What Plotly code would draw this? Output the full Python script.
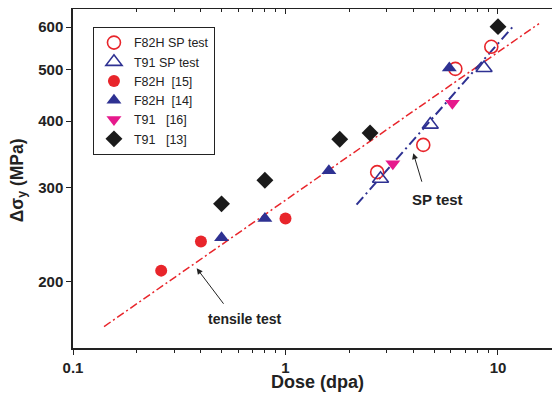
import plotly.graph_objects as go
import math

# ---- data ----
f82h_sp_dose = [2.7, 4.45, 6.3, 9.3]
f82h_sp_ds = [321, 361, 501, 551]

t91_sp_dose = [2.8, 4.8, 8.6]
t91_sp_ds = [312, 394, 503]

f82h_15_dose = [0.26, 0.40, 1.0]
f82h_15_ds = [210, 238, 263]

f82h_14_dose = [0.5, 0.8, 1.6, 5.9]
f82h_14_ds = [242, 263, 323, 503]

t91_16_dose = [3.2, 6.1]
t91_16_ds = [333, 432]

t91_13_dose = [0.5, 0.8, 1.8, 2.5, 10.0]
t91_13_ds = [280, 310, 370, 380, 601]

tensile_fit_dose = [0.14, 15.6]
tensile_fit_ds = [165, 609]

sp_fit_dose = [2.16, 11.7]
sp_fit_ds = [279, 600]

y_ticks = [200, 300, 400, 500, 600]
x_ticks = [0.1, 1, 10]
x_tick_labels = ["0.1", "1", "10"]
x_minor = [0.2, 0.3, 0.4, 0.5, 0.6, 0.7, 0.8, 0.9,
           2, 3, 4, 5, 6, 7, 8, 9]

RED = "#E8252B"
BLUE = "#2E3192"
MAGENTA = "#E6198C"
BLACK = "#1a1a1a"

fig = go.Figure()

fig.add_trace(go.Scatter(x=tensile_fit_dose, y=tensile_fit_ds, mode="lines",
                         line=dict(color=RED, width=1.5, dash="8px,3px,2px,3px"),
                         showlegend=False, hoverinfo="skip"))
fig.add_trace(go.Scatter(x=sp_fit_dose, y=sp_fit_ds, mode="lines",
                         line=dict(color=BLUE, width=2, dash="10px,4px,2px,4px"),
                         showlegend=False, hoverinfo="skip"))

NB = "\u00a0"
fig.add_trace(go.Scatter(x=f82h_sp_dose, y=f82h_sp_ds, mode="markers", name="F82H SP test",
                         marker=dict(symbol="circle-open", size=13, color=RED, line=dict(width=1.6))))
fig.add_trace(go.Scatter(x=t91_sp_dose, y=t91_sp_ds, mode="markers", name="T91 SP test",
                         marker=dict(symbol="triangle-up-open", size=14, color=BLUE, line=dict(width=1.6))))
fig.add_trace(go.Scatter(x=f82h_15_dose, y=f82h_15_ds, mode="markers", name="F82H" + NB * 2 + "[15]",
                         marker=dict(symbol="circle", size=12, color=RED)))
fig.add_trace(go.Scatter(x=f82h_14_dose, y=f82h_14_ds, mode="markers", name="F82H" + NB * 2 + "[14]",
                         marker=dict(symbol="triangle-up", size=13, color=BLUE)))
fig.add_trace(go.Scatter(x=t91_16_dose, y=t91_16_ds, mode="markers", name="T91" + NB * 3 + "[16]",
                         marker=dict(symbol="triangle-down", size=13, color=MAGENTA)))
fig.add_trace(go.Scatter(x=t91_13_dose, y=t91_13_ds, mode="markers", name="T91" + NB * 3 + "[13]",
                         marker=dict(symbol="diamond", size=13, color=BLACK)))

# dummy trace on mirrored axes so they are drawn
fig.add_trace(go.Scatter(x=[], y=[], xaxis="x2", yaxis="y2", showlegend=False, hoverinfo="skip"))

xr = [-1, math.log10(19.58)]
yr = [2.1774, 2.8119]
FONT = "Liberation Sans, Arial, sans-serif"
TICKFONT = dict(family=FONT, size=15, color="#222", weight="bold")

# the page body adds an 8px offset, so the figure is 8px smaller and margins compensate
fig.update_layout(
    width=552, height=394,
    margin=dict(l=65, r=0, t=1, b=54, autoexpand=False),
    paper_bgcolor="white", plot_bgcolor="white",
    font=dict(family=FONT, color="#222"),
    showlegend=True,
    legend=dict(x=0.041, y=0.947, xanchor="left", yanchor="top",
                bgcolor="white", bordercolor="#222", borderwidth=1,
                font=dict(family=FONT, size=12.5, color="#222"),
                tracegroupgap=0, itemsizing="trace"),
    xaxis=dict(type="log", range=xr, showgrid=False, zeroline=False, automargin=False,
               showline=True, linecolor="#222", linewidth=1.5,
               tickmode="array", tickvals=x_ticks, ticktext=x_tick_labels,
               ticks="outside", ticklen=5, tickwidth=1.2, tickcolor="#222",
               tickfont=TICKFONT,
               minor=dict(tickmode="array", tickvals=x_minor, ticks="outside",
                          ticklen=3, tickwidth=1, tickcolor="#222")),
    yaxis=dict(type="log", range=yr, showgrid=False, zeroline=False, automargin=False,
               showline=True, linecolor="#222", linewidth=1.5,
               tickmode="array", tickvals=y_ticks, ticktext=[str(v) for v in y_ticks],
               ticks="outside", ticklen=5, tickwidth=1.2, tickcolor="#222",
               tickfont=TICKFONT),
    xaxis2=dict(type="log", range=xr, overlaying="x", side="top", anchor="y", automargin=False,
                showgrid=False, zeroline=False, showline=True, linecolor="#222", linewidth=1.5,
                tickmode="array", tickvals=x_ticks, showticklabels=False,
                ticks="inside", ticklen=5, tickwidth=1.2, tickcolor="#222",
                minor=dict(tickmode="array", tickvals=x_minor, ticks="inside",
                           ticklen=3, tickwidth=1, tickcolor="#222")),
    yaxis2=dict(type="log", range=yr, overlaying="y", side="right", anchor="x", automargin=False,
                showgrid=False, zeroline=False, showline=False,
                tickmode="array", tickvals=y_ticks, showticklabels=False,
                ticks="inside", ticklen=4, tickwidth=1.2, tickcolor="#222"),
)

# axis titles
fig.add_annotation(x=0.502, y=-0.100, xref="paper", yref="paper", text="<b>Dose (dpa)</b>",
                   showarrow=False, xanchor="center", yanchor="middle",
                   font=dict(family=FONT, size=18, color="#222"))
fig.add_annotation(x=-0.112, y=0.496, xref="paper", yref="paper",
                   text="<b>Δσ<sub>y</sub> (MPa)</b>", textangle=-90,
                   showarrow=False, xanchor="center", yanchor="middle",
                   font=dict(family=FONT, size=17.5, color="#222"))

# annotations: arrows and labels
fig.add_annotation(x=-0.418, y=2.3267, xref="x", yref="y", ax=28, ay=37,
                   axref="pixel", ayref="pixel", text="", showarrow=True,
                   arrowhead=2, arrowsize=1.2, arrowwidth=1, arrowcolor="#222")
fig.add_annotation(x=-0.193, y=2.2317, xref="x", yref="y", text="<b>tensile test</b>",
                   showarrow=False, font=dict(family=FONT, size=14, color="#222"))
fig.add_annotation(x=0.6014, y=2.5420, xref="x", yref="y", ax=9, ay=30,
                   axref="pixel", ayref="pixel", text="", showarrow=True,
                   arrowhead=2, arrowsize=1.2, arrowwidth=1, arrowcolor="#222")
fig.add_annotation(x=0.7176, y=2.4546, xref="x", yref="y", text="<b>SP test</b>",
                   showarrow=False, font=dict(family=FONT, size=15, color="#222"))

fig.write_html("out.html")
